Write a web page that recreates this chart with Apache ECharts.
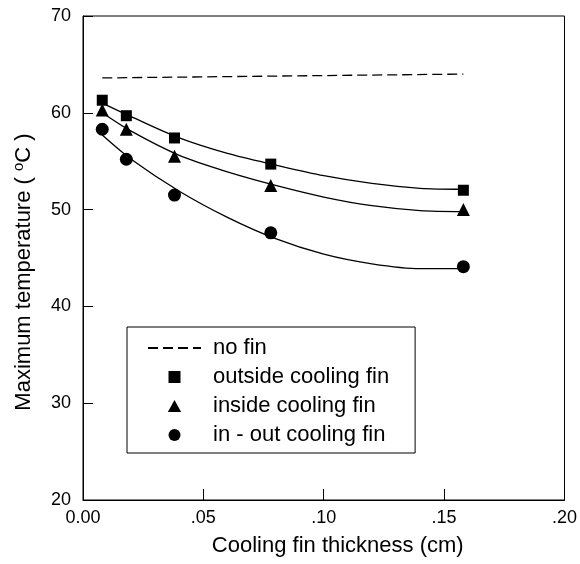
<!DOCTYPE html>
<html>
<head>
<meta charset="utf-8">
<script src="https://cdn.jsdelivr.net/npm/echarts@6/dist/echarts.min.js"></script>
<style>
  html, body { margin: 0; padding: 0; background: #fff; }
  #chart { width: 580px; height: 564px; }
</style>
</head>
<body>
<div id="chart"></div>
<script>
    // measured points (cm, degC)
    const thickness = [0.008, 0.018, 0.038, 0.078, 0.158]
    const outsideFin = [61.3, 59.7, 57.4, 54.7, 52.0]
    const insideFin = [60.3, 58.3, 55.5, 52.5, 50.0]
    const inOutFin = [58.3, 55.2, 51.5, 47.6, 44.1]

    // no fin reference line
    const noFinX = [0.008, 0.158]
    const noFin = [63.6, 64.0]

    // fitted curves
    const fitX = [0.008, 0.02, 0.04, 0.06, 0.08, 0.10, 0.12, 0.14, 0.158]
    const outsideFit = [61.0, 59.6, 57.4, 55.8, 54.6, 53.5, 52.7, 52.2, 52.1]
    const insideFit = [60.0, 58.1, 55.6, 53.9, 52.5, 51.3, 50.4, 49.9, 49.8]
    const inOutFit = [57.7, 55.2, 51.9, 49.2, 47.0, 45.4, 44.4, 43.9, 43.9]

    const xTickLabels = ['0.00', '.05', '.10', '.15', '.20']

    const font = 'Liberation Sans, Arial, sans-serif'

    // legend icons that keep their aspect
    const squareIcon = 'path://M0,0h10v10h-10z'
    const triangleIcon = 'path://M5,0L10,9L0,9z'

    let pairs = (xs, ys) => xs.map((x, i) => [x, ys[i]])

    let markerSeries = (name, symbol, size, ys) => ({
        name: name,
        type: 'scatter',
        symbol: symbol,
        symbolSize: size,
        itemStyle: { color: '#000', opacity: 1 },
        data: pairs(thickness, ys),
        z: 3
    })

    let fitSeries = ys => ({
        type: 'line',
        smooth: 0.3,
        symbol: 'none',
        silent: true,
        lineStyle: { color: '#000', width: 1.3 },
        data: pairs(fitX, ys)
    })

    let chart = echarts.init(document.getElementById('chart'))
    let option = {
        backgroundColor: '#fff',
        animation: false,
        textStyle: { fontFamily: font, color: '#000' },
        grid: {
            left: 83, right: 14, top: 16, bottom: 64,
            show: true, borderColor: '#000', borderWidth: 1
        },
        legend: {
            orient: 'vertical',
            left: 127,
            top: 327,
            data: [
                { name: 'no fin', itemStyle: { color: 'rgba(0,0,0,0)', opacity: 0, borderWidth: 0 } },
                { name: 'outside cooling fin', icon: squareIcon },
                { name: 'inside cooling fin', icon: triangleIcon },
                { name: 'in - out cooling fin', icon: 'circle' }
            ],
            symbolKeepAspect: true,
            itemWidth: 53,
            itemHeight: 12,
            itemGap: 7,
            padding: [10, 26, 7, 20],
            borderColor: '#000',
            borderWidth: 1,
            textStyle: { fontFamily: font, fontSize: 22, color: '#000', lineHeight: 22, padding: [0, 0, 0, 7] },
            selectedMode: false
        },
        xAxis: {
            type: 'value',
            min: 0, max: 0.2, interval: 0.05,
            name: 'Cooling fin thickness (cm)',
            nameLocation: 'middle',
            nameGap: 35,
            nameTextStyle: { fontFamily: font, fontSize: 22, color: '#000', padding: [0, 0, 0, 28] },
            axisLine: { show: true, lineStyle: { color: '#000' } },
            axisTick: { show: true, inside: true, length: 11, lineStyle: { color: '#000' } },
            axisLabel: {
                fontFamily: font, fontSize: 18, color: '#000', margin: 9,
                formatter: (v, i) => xTickLabels[i]
            },
            splitLine: { show: false }
        },
        yAxis: {
            type: 'value',
            min: 20, max: 70, interval: 10,
            name: 'Maximum temperature ( {sup|o}C )',
            nameLocation: 'middle',
            nameGap: 47,
            nameTextStyle: {
                fontFamily: font, fontSize: 22, color: '#000', padding: [0, 28, 0, 0],
                rich: { sup: { fontFamily: font, fontSize: 15, color: '#000', verticalAlign: 'top', padding: [0, 0, 10, 0] } }
            },
            axisLine: { show: true, lineStyle: { color: '#000' } },
            axisTick: { show: true, inside: true, length: 10, lineStyle: { color: '#000' } },
            axisLabel: { fontFamily: font, fontSize: 18, color: '#000', margin: 12 },
            splitLine: { show: false }
        },
        series: [
            {
                name: 'no fin',
                type: 'line',
                symbol: 'none',
                silent: true,
                lineStyle: { color: '#000', width: 1.3, type: [10, 5] },
                itemStyle: { color: '#000' },
                data: pairs(noFinX, noFin)
            },
            markerSeries('outside cooling fin', 'rect', 11, outsideFin),
            markerSeries('inside cooling fin', 'triangle', 13, insideFin),
            markerSeries('in - out cooling fin', 'circle', 13, inOutFin),
            fitSeries(outsideFit),
            fitSeries(insideFit),
            fitSeries(inOutFit)
        ]
    }
    chart.setOption(option)
</script>
</body>
</html>
